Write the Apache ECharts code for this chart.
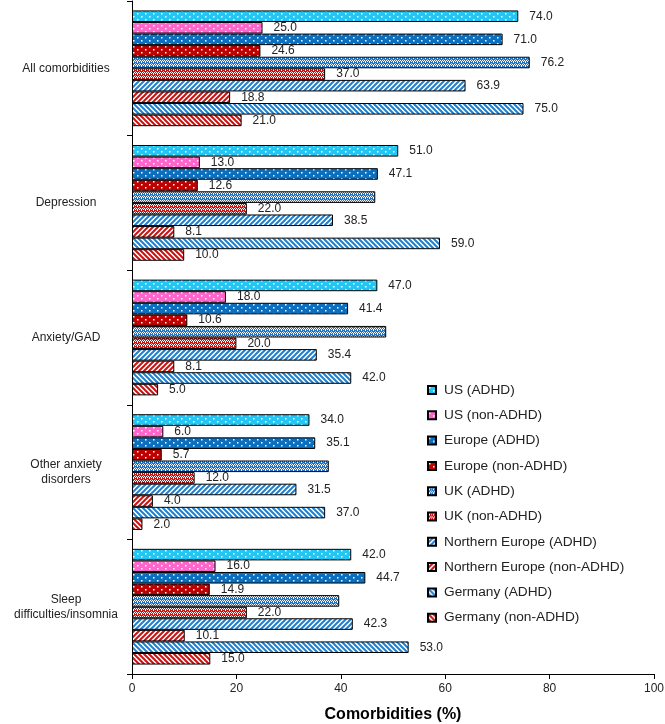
<!DOCTYPE html>
<html><head><meta charset="utf-8">
<script src="https://cdn.jsdelivr.net/npm/echarts@6/dist/echarts.min.js"></script>
<style>html,body{margin:0;padding:0;background:#fff}#c{width:665px;height:724px}</style>
</head><body><div id="c"></div>
<script>
const categories = ['All comorbidities', 'Depression', 'Anxiety/GAD', 'Other anxiety\ndisorders', 'Sleep\ndifficulties/insomnia'];
const seriesNames = ['US (ADHD)', 'US (non-ADHD)', 'Europe (ADHD)', 'Europe (non-ADHD)', 'UK (ADHD)', 'UK (non-ADHD)', 'Northern Europe (ADHD)', 'Northern Europe (non-ADHD)', 'Germany (ADHD)', 'Germany (non-ADHD)'];
const usADHD = [74.0, 51.0, 47.0, 34.0, 42.0];
const usNon = [25.0, 13.0, 18.0, 6.0, 16.0];
const euADHD = [71.0, 47.1, 41.4, 35.1, 44.7];
const euNon = [24.6, 12.6, 10.6, 5.7, 14.9];
const ukADHD = [76.2, 46.6, 48.7, 37.7, 39.7];
const ukNon = [37.0, 22.0, 20.0, 12.0, 22.0];
const neADHD = [63.9, 38.5, 35.4, 31.5, 42.3];
const neNon = [18.8, 8.1, 8.1, 4.0, 10.1];
const deADHD = [75.0, 59.0, 42.0, 37.0, 53.0];
const deNon = [21.0, 10.0, 5.0, 2.0, 15.0];
const ukADHDLabelShown = [true, false, false, false, false];
const xTicks = [0, 20, 40, 60, 80, 100];

function tile(w, h, draw) {
  const c = document.createElement('canvas'); c.width = w; c.height = h;
  const g = c.getContext('2d'); draw(g, w, h); return c;
}
function dots(bg) {
  return { image: tile(8, 6, (g, w, h) => {
    g.fillStyle = bg; g.fillRect(0, 0, w, h);
    g.fillStyle = '#ffffff';
    g.fillRect(1, 1, 1.5, 1.5); g.fillRect(5, 4, 1.5, 1.5);
  }), repeat: 'repeat' };
}
function lattice(bg) {
  return { image: tile(4, 4, (g, w, h) => {
    g.fillStyle = bg; g.fillRect(0, 0, w, h);
    g.fillStyle = '#ffffff';
    g.fillRect(0, 0, 1, 1); g.fillRect(2, 0, 1, 1);
    g.fillRect(1, 1, 1, 1); g.fillRect(3, 1, 1, 1);
    g.fillRect(1, 2, 1, 1);
    g.fillStyle = 'rgba(255,255,255,0.6)'; g.fillRect(3, 3, 1, 1);
  }), repeat: 'repeat' };
}
function stripes(col, forward) {
  return { image: tile(5, 5, (g, w, h) => {
    g.fillStyle = '#ffffff'; g.fillRect(0, 0, w, h);
    g.strokeStyle = col; g.lineWidth = 2.0;
    g.beginPath();
    if (forward) {
      g.moveTo(-1, h + 1); g.lineTo(w + 1, -1);
      g.moveTo(-1, 1); g.lineTo(1, -1);
      g.moveTo(w - 1, h + 1); g.lineTo(w + 1, h - 1);
    } else {
      g.moveTo(-1, -1); g.lineTo(w + 1, h + 1);
      g.moveTo(w - 1, -1); g.lineTo(w + 1, 1);
      g.moveTo(-1, h - 1); g.lineTo(1, h + 1);
    }
    g.stroke();
  }), repeat: 'repeat' };
}

const fills = [
  dots('#22c6f4'), dots('#ff66cc'), dots('#0b6fbf'), dots('#c00000'),
  lattice('#1c72c4'), lattice('#cc1111'),
  stripes('#1f7fd0', true), stripes('#cc1111', true),
  stripes('#1f7fd0', false), stripes('#cc1111', false)
];
const values = [usADHD, usNon, euADHD, euNon, ukADHD, ukNon, neADHD, neNon, deADHD, deNon];

const series = values.map((vals, si) => ({
  name: seriesNames[si],
  type: 'bar',
  barGap: '0%',
  barCategoryGap: '14%',
  itemStyle: { color: fills[si], borderColor: '#000', borderWidth: 1 },
  label: {
    show: true, position: 'right', distance: 11,
    color: '#222', fontSize: 12, fontFamily: 'Liberation Sans',
    formatter: p => p.value.toFixed(1)
  },
  data: vals.map((v, i) => (si === 4 && !ukADHDLabelShown[i]) ? { value: v, label: { show: false } } : v)
}));

const chart = echarts.init(document.getElementById('c'), null, { renderer: 'canvas' });
chart.setOption({
  animation: false,
  backgroundColor: '#fff',
  textStyle: { fontFamily: 'Liberation Sans' },
  grid: { left: 132, right: 11, top: 1, bottom: 50, containLabel: false, outerBoundsMode: 'none' },
  legend: {
    orient: 'vertical', left: 422, top: 378,
    itemWidth: 8, itemHeight: 8, itemGap: 11.3,
    icon: 'rect',
    textStyle: { fontSize: 13.7, color: '#222', fontFamily: 'Liberation Sans', lineHeight: 14, padding: [0, 0, 0, 3] },
    data: seriesNames
  },
  xAxis: {
    type: 'value', min: xTicks[0], max: xTicks[xTicks.length - 1], interval: 20,
    axisLine: { show: true, lineStyle: { color: '#000', width: 1 } },
    axisTick: { show: true, length: 5, lineStyle: { color: '#000' } },
    axisLabel: { fontSize: 12, color: '#222', margin: 9 },
    splitLine: { show: false },
    name: 'Comorbidities (%)', nameLocation: 'middle', nameGap: 33,
    nameTextStyle: { fontSize: 16, fontWeight: 'bold', color: '#000', fontFamily: 'Liberation Sans' }
  },
  yAxis: {
    type: 'category', inverse: true, data: categories,
    axisLine: { show: true, lineStyle: { color: '#000', width: 1 } },
    axisTick: { show: true, length: 5, lineStyle: { color: '#000' } },
    axisLabel: { fontSize: 12, color: '#222', align: 'center', margin: 66, lineHeight: 15 }
  },
  series: series
});
</script></body></html>
